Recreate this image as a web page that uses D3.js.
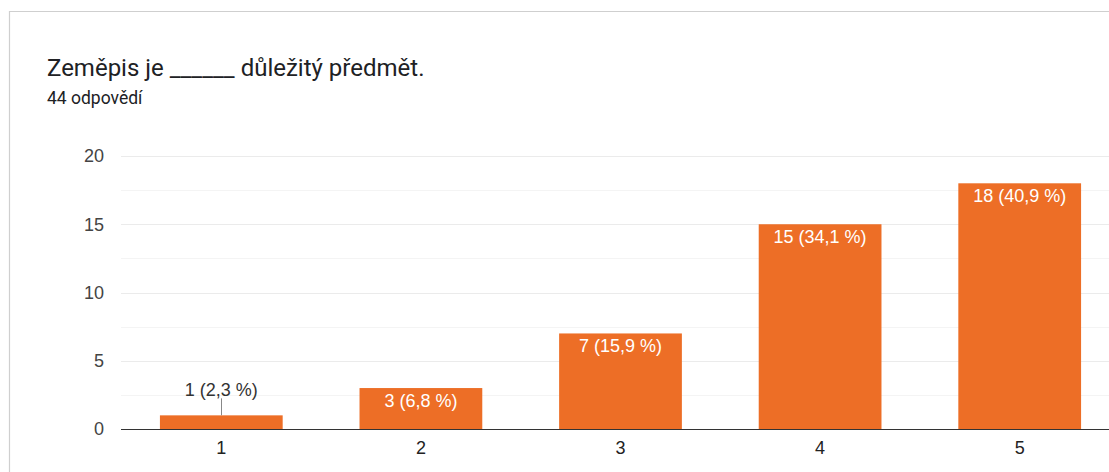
<!DOCTYPE html>
<html>
<head>
<meta charset="utf-8">
<script src="https://cdn.jsdelivr.net/npm/d3@7"></script>
<style>
  body { margin: 0; background: #fff; font-family: Roboto, "Noto Sans", sans-serif; }
  svg { display: block; }
</style>
</head>
<body>
<script>
let categories = ["1", "2", "3", "4", "5"];
let counts = [1, 3, 7, 15, 18];
let percents = ["2,3", "6,8", "15,9", "34,1", "40,9"];
let yTicks = [0, 5, 10, 15, 20];
let title = "Zeměpis je ______ důležitý předmět.";
let subtitle = "44 odpovědí";

let W = 1109, H = 472;
let margin = {top: 156, left: 121, bottom: 43};
let plotRight = 1120;
let chartFont = "Arial, 'Liberation Sans', sans-serif";

let svg = d3.select("body").append("svg")
    .attr("width", W)
    .attr("height", H);

// card border
svg.append("path")
    .attr("d", "M9.5," + H + "V11.5H" + W)
    .attr("fill", "none")
    .attr("stroke", "#cfcfcf")
    .attr("stroke-width", 1.2);

svg.append("text")
    .attr("x", 47)
    .attr("y", 76)
    .style("font-size", "24px")
    .style("fill", "#202124")
    .text(title);

svg.append("text")
    .attr("x", 47)
    .attr("y", 104)
    .style("font-size", "17.5px")
    .style("fill", "#202124")
    .text(subtitle);

let x = d3.scaleBand()
    .domain(categories)
    .range([margin.left, plotRight])
    .paddingInner(0.385)
    .paddingOuter(0.195);

let y = d3.scaleLinear()
    .domain([0, 20])
    .range([H - margin.bottom, margin.top]);

// minor gridlines
svg.append("g")
    .selectAll("line")
    .data(d3.range(2.5, 20, 5))
    .join("line")
    .attr("x1", margin.left).attr("x2", W)
    .attr("y1", d => Math.round(y(d)) + 0.5)
    .attr("y2", d => Math.round(y(d)) + 0.5)
    .attr("stroke", "#f4f4f4");

// major gridlines
svg.append("g")
    .selectAll("line")
    .data(yTicks.slice(1))
    .join("line")
    .attr("x1", margin.left).attr("x2", W)
    .attr("y1", d => Math.round(y(d)) + 0.5)
    .attr("y2", d => Math.round(y(d)) + 0.5)
    .attr("stroke", "#ebebeb");

// y axis labels
let yAxis = d3.axisLeft(y).tickValues(yTicks).tickSize(0).tickPadding(17);
svg.append("g")
    .attr("transform", "translate(" + margin.left + ",0)")
    .call(yAxis)
    .call(g => g.select(".domain").remove())
    .selectAll("text")
    .style("font-size", "18px")
    .style("font-family", chartFont)
    .style("fill", "#444");

svg.append("g")
    .selectAll("rect")
    .data(counts)
    .join("rect")
    .attr("x", (d, i) => x(categories[i]))
    .attr("width", x.bandwidth())
    .attr("y", d => y(d))
    .attr("height", d => y(0) - y(d))
    .attr("fill", "#ed6e26");

// baseline
svg.append("line")
    .attr("x1", margin.left).attr("x2", W)
    .attr("y1", y(0) + 0.5).attr("y2", y(0) + 0.5)
    .attr("stroke", "#333")
    .attr("stroke-width", 1);

// x axis labels
let xAxis = d3.axisBottom(x).tickSize(0).tickPadding(12);
svg.append("g")
    .attr("transform", "translate(0," + y(0) + ")")
    .call(xAxis)
    .call(g => g.select(".domain").remove())
    .selectAll("text")
    .style("font-size", "18px")
    .style("font-family", chartFont)
    .style("fill", "#222");

// bar labels
counts.forEach((d, i) => {
    let cx = x(categories[i]) + x.bandwidth() / 2;
    let label = d + " (" + percents[i] + " %)";
    let inside = (y(0) - y(d)) > 24;
    if (inside) {
        svg.append("text")
            .attr("x", cx)
            .attr("y", y(d) + 19)
            .attr("text-anchor", "middle")
            .style("font-size", "18px")
            .style("font-family", chartFont)
            .style("fill", "#fff")
            .text(label);
    } else {
        svg.append("line")
            .attr("x1", Math.round(cx) + 0.5).attr("x2", Math.round(cx) + 0.5)
            .attr("y1", y(d) - 17).attr("y2", y(d))
            .attr("stroke", "#888");
        svg.append("text")
            .attr("x", cx)
            .attr("y", y(d) - 19)
            .attr("text-anchor", "middle")
            .style("font-size", "18px")
            .style("font-family", chartFont)
            .style("fill", "#333")
            .text(label);
    }
});
</script>
</body>
</html>
